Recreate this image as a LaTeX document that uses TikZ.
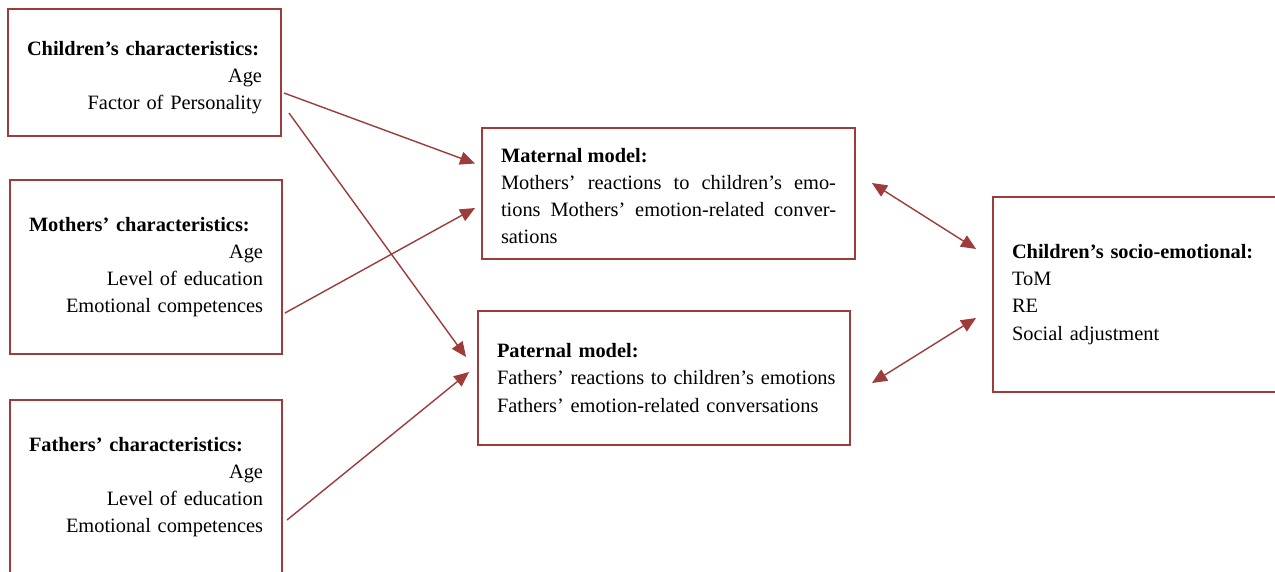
\documentclass[tikz,border=0pt]{standalone}
\usepackage{fontspec}
\setmainfont{Liberation Serif}
\usetikzlibrary{arrows.meta}
\definecolor{boxred}{HTML}{9E3B3B}
\tikzset{
  box/.style={draw=boxred, line width=1.1pt, inner xsep=0.38cm, inner ysep=0pt,
    font=\fontsize{11.6}{15.4}\selectfont},
  link/.style={draw=boxred, line width=0.8pt, -{Triangle[length=0.3cm,width=0.26cm]}},
  twoway/.style={link, {Triangle[length=0.3cm,width=0.26cm]}-{Triangle[length=0.3cm,width=0.26cm]}}
}

\begin{document}
\begin{tikzpicture}
        \useasboundingbox (0,0) rectangle (25.5,-11.42);

        % Characteristics
        \node[box, text width=4.7cm, minimum height=2.54cm, align=left] (Ch) at (2.89,-1.45)
          {\rule{0pt}{14pt}\textbf{Children's characteristics:}\\ \hspace*{\fill}Age\\ \hspace*{\fill}Factor of Personality};
        \node[box, text width=4.68cm, minimum height=3.48cm, align=left] (Mo) at (2.92,-5.34)
          {\textbf{Mothers' characteristics:}\\ \hspace*{\fill}Age\\ \hspace*{\fill}Level of education\\ \hspace*{\fill}Emotional competences};
        \node[box, text width=4.68cm, minimum height=3.48cm, align=left] (Fa) at (2.92,-9.74)
          {\textbf{Fathers' characteristics:}\\ \hspace*{\fill}Age\\ \hspace*{\fill}Level of education\\ \hspace*{\fill}Emotional competences};

        % Models
        \node[box, text width=6.7cm, minimum height=2.62cm, align=justify] (Mat) at (13.37,-3.87)
          {\rule{0pt}{11pt}\textbf{Maternal model:}\\ Mothers' reactions to children's emo-\linebreak tions Mothers' emotion-related conver-\linebreak sations};
        \node[box, text width=6.68cm, minimum height=2.68cm, align=left] (Pat) at (13.28,-7.56)
          {\textbf{Paternal model:}\\ \mbox{Fathers' reactions to children's emotions}\\ \mbox{Fathers' emotion-related conversations}};

        % Outcome
        \node[box, text width=5.6cm, minimum height=3.9cm, align=left] (So) at (23.04,-5.89)
          {\textbf{Children's socio-emotional:}\\ ToM\\ RE\\ Social adjustment};

        % Arrows
        \draw[link] ([xshift=0.04cm,yshift=-0.41cm]Ch.east) -- ([xshift=-0.12cm,yshift=0.6cm]Mat.west);
        \draw[link] ([xshift=0.14cm,yshift=-0.81cm]Ch.east) -- ([xshift=-0.22cm,yshift=0.42cm]Pat.west);
        \draw[link] ([xshift=0.04cm,yshift=-0.92cm]Mo.east) -- ([xshift=-0.12cm,yshift=-0.29cm]Mat.west);
        \draw[link] ([xshift=0.08cm,yshift=-0.66cm]Fa.east) -- ([xshift=-0.16cm,yshift=0.12cm]Pat.west);

        \draw[twoway] ([xshift=0.32cm,yshift=0.21cm]Mat.east) -- ([xshift=-0.32cm,yshift=0.91cm]So.west);
        \draw[twoway] ([xshift=0.42cm,yshift=-0.1cm]Pat.east) -- ([xshift=-0.32cm,yshift=-0.47cm]So.west);
\end{tikzpicture}
\end{document}
